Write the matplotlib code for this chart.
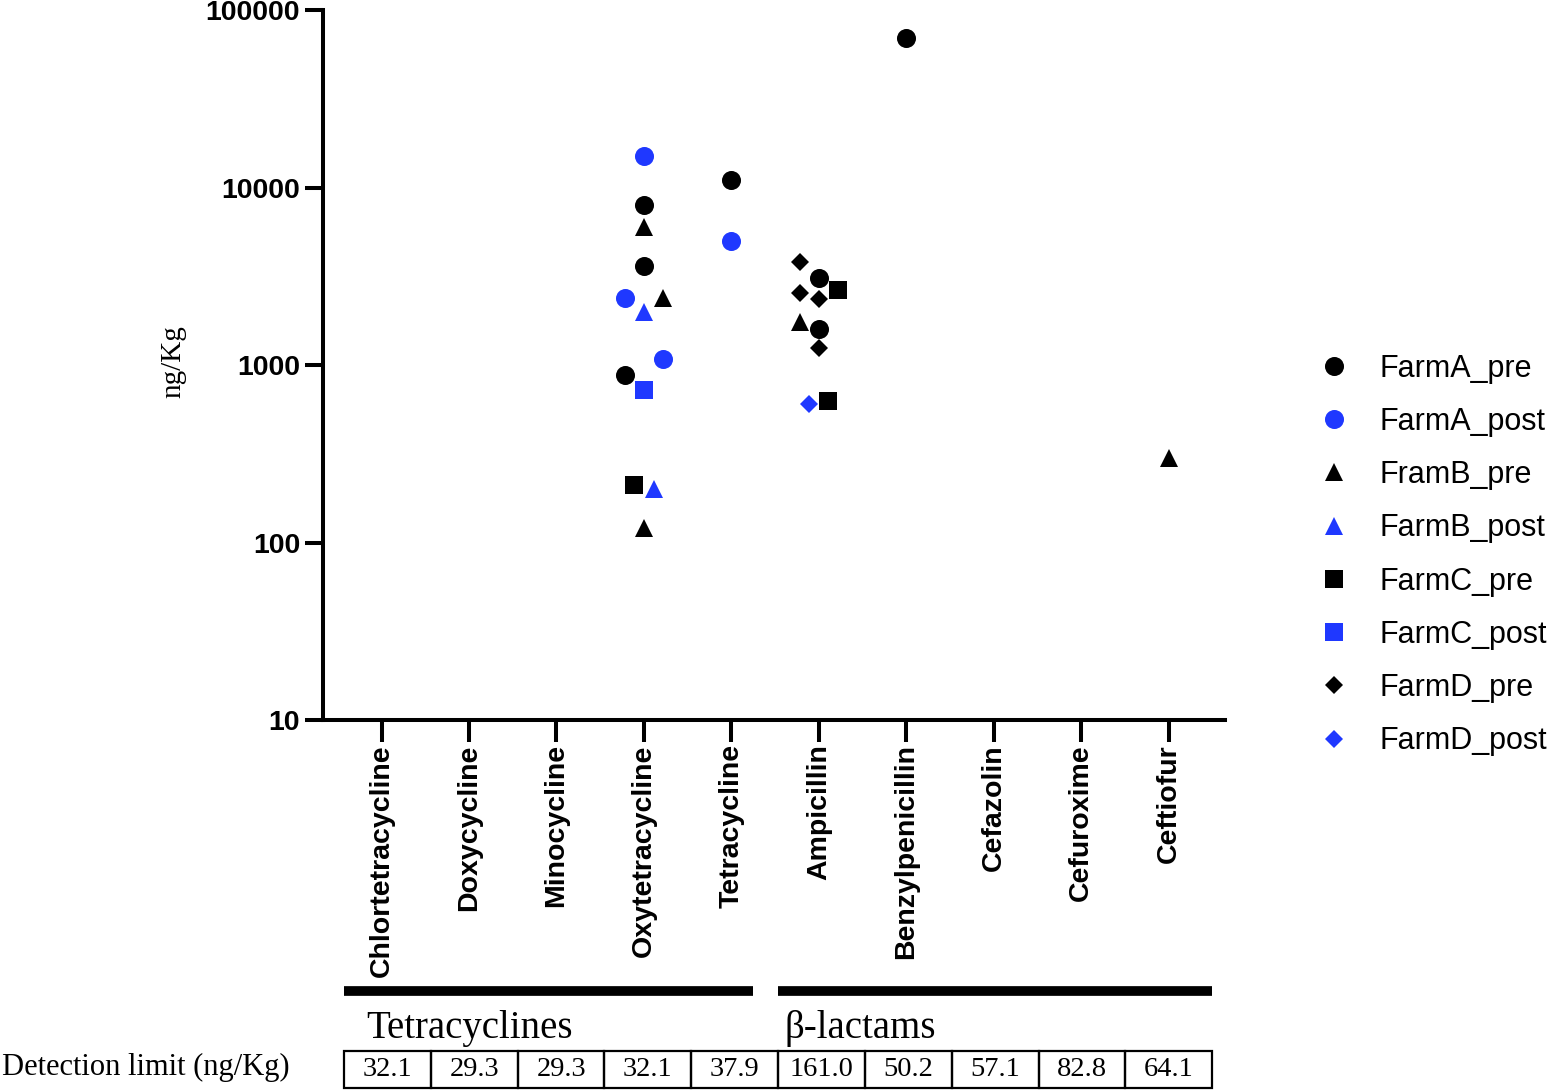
import matplotlib
matplotlib.use("Agg")
import matplotlib.pyplot as plt
import matplotlib.transforms as mtransforms
from matplotlib.patches import Rectangle

# categories on the x axis
drugs = ['Chlortetracycline', 'Doxycycline', 'Minocycline', 'Oxytetracycline',
         'Tetracycline', 'Ampicillin', 'Benzylpenicillin', 'Cefazolin',
         'Cefuroxime', 'Ceftiofur']
detection_limit = ['32.1', '29.3', '29.3', '32.1', '37.9',
                   '161.0', '50.2', '57.1', '82.8', '64.1']

# per series: category index, value (ng/Kg), horizontal jitter (category units)
farmA_pre_idx = [3, 3, 3, 4, 5, 5, 6]
farmA_pre_val = [8000, 3600, 880, 11000, 3100, 1600, 70000]
farmA_pre_jit = [0, 0, -0.22, 0, 0, 0, 0]

farmA_post_idx = [3, 3, 3, 4]
farmA_post_val = [15000, 2400, 1080, 5000]
farmA_post_jit = [0, -0.22, 0.22, 0]

framB_pre_idx = [3, 3, 3, 5, 9]
framB_pre_val = [6000, 2400, 120, 1750, 300]
framB_pre_jit = [0, 0.22, 0, -0.22, 0]

farmB_post_idx = [3, 3]
farmB_post_val = [2000, 200]
farmB_post_jit = [0, 0.11]

farmC_pre_idx = [3, 5, 5]
farmC_pre_val = [210, 2650, 630]
farmC_pre_jit = [-0.11, 0.22, 0.11]

farmC_post_idx = [3]
farmC_post_val = [720]
farmC_post_jit = [0]

farmD_pre_idx = [5, 5, 5, 5]
farmD_pre_val = [3800, 2550, 2350, 1250]
farmD_pre_jit = [-0.22, -0.22, 0, 0]

farmD_post_idx = [5]
farmD_post_val = [600]
farmD_post_jit = [-0.11]

BLUE = '#1f38ff'
series = [
    ('FarmA_pre', farmA_pre_idx, farmA_pre_val, farmA_pre_jit, 'o', 'black', 13.7),
    ('FarmA_post', farmA_post_idx, farmA_post_val, farmA_post_jit, 'o', BLUE, 13.7),
    ('FramB_pre', framB_pre_idx, framB_pre_val, framB_pre_jit, '^', 'black', 13),
    ('FarmB_post', farmB_post_idx, farmB_post_val, farmB_post_jit, '^', BLUE, 13),
    ('FarmC_pre', farmC_pre_idx, farmC_pre_val, farmC_pre_jit, 's', 'black', 13.5),
    ('FarmC_post', farmC_post_idx, farmC_post_val, farmC_post_jit, 's', BLUE, 13.5),
    ('FarmD_pre', farmD_pre_idx, farmD_pre_val, farmD_pre_jit, 'D', 'black', 9.5),
    ('FarmD_post', farmD_post_idx, farmD_post_val, farmD_post_jit, 'D', BLUE, 9.5),
]

SANS = 'Liberation Sans'
SERIF = 'Liberation Serif'

fig = plt.figure(figsize=(15.5, 10.9), dpi=100)
ax = fig.add_axes([0.2084, 0.3394, 0.5819, 0.6514])

for label, idx, val, jit, mk, col, ms in series:
    xs = [i + j for i, j in zip(idx, jit)]
    ax.plot(xs, val, linestyle='none', marker=mk, color=col,
            markersize=ms, markeredgewidth=0, label=label, clip_on=False)

ax.set_yscale('log')
ax.set_ylim(10, 100000)
ax.set_xlim(-0.67, 9.645)
ax.set_yticks([10, 100, 1000, 10000, 100000])
ax.set_yticklabels(['10', '100', '1000', '10000', '100000'])
ax.yaxis.set_minor_locator(matplotlib.ticker.NullLocator())
ax.set_xticks(range(len(drugs)))
ax.set_xticklabels(drugs, rotation=90, va='top', ha='center')

for lab in ax.get_xticklabels() + ax.get_yticklabels():
    lab.set_fontfamily(SANS)
    lab.set_fontweight('bold')
    lab.set_fontsize(20.5)

for side in ['top', 'right']:
    ax.spines[side].set_visible(False)
for side in ['left', 'bottom']:
    ax.spines[side].set_linewidth(2.9)
ax.tick_params(axis='y', direction='out', length=13, width=2.9, pad=3.5)
ax.tick_params(axis='x', direction='out', length=16, width=2.9, pad=1.5)

fig.text(173 / 1550, 1 - 362 / 1090, 'ng/Kg', rotation=90, ha='center',
         va='center', fontfamily=SERIF, fontsize=21)

# class bars, class names and detection-limit table below the axis
trans = mtransforms.blended_transform_factory(ax.transData, ax.transAxes)
ax.plot([-0.43, 4.25], [-0.3817, -0.3817], transform=trans, color='black',
        lw=7, solid_capstyle='butt', clip_on=False)
ax.plot([4.53, 9.50], [-0.3817, -0.3817], transform=trans, color='black',
        lw=7, solid_capstyle='butt', clip_on=False)
ax.text(-0.18, -0.448, 'Tetracyclines', transform=trans, ha='left',
        va='baseline', fontfamily=SERIF, fontsize=28)
ax.text(4.61, -0.448, 'β-lactams', transform=trans, ha='left',
        va='baseline', fontfamily=SERIF, fontsize=28)

cell_w = (9.50 + 0.43) / len(detection_limit)
y0, y1 = -0.5183, -0.4662
for i, txt in enumerate(detection_limit):
    x0 = -0.43 + i * cell_w
    ax.add_patch(Rectangle((x0, y0), cell_w, y1 - y0, transform=trans,
                           fill=False, edgecolor='black', lw=1.6, clip_on=False))
    ax.text(x0 + cell_w / 2, (y0 + y1) / 2, txt, transform=trans, ha='center',
            va='center', fontfamily=SERIF, fontsize=20.5)

fig.text(2 / 1550, 1 - 1067 / 1090, 'Detection limit (ng/Kg)', ha='left',
         va='center', fontfamily=SERIF, fontsize=22)

fig.legend(loc='center left', bbox_to_anchor=(1303 / 1550, 1 - 555 / 1090),
           frameon=False, prop={'family': SANS, 'size': 22}, handlelength=2,
           handletextpad=0.5, borderaxespad=0, borderpad=0, labelspacing=0.76)

fig.savefig('out.png', dpi=100)
